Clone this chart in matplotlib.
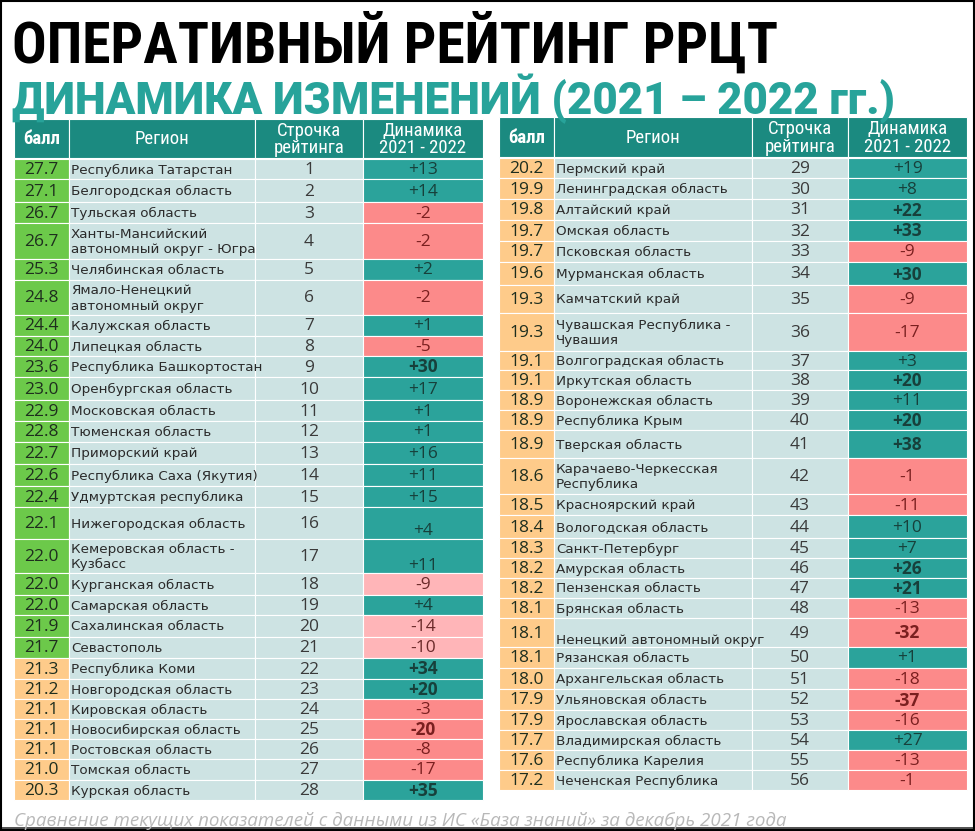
import matplotlib
matplotlib.use("Agg")
import matplotlib.pyplot as plt
from matplotlib.patches import Rectangle
from matplotlib import font_manager

# --- data ---
regions = [
    "Республика Татарстан", "Белгородская область", "Тульская область",
    "Ханты-Мансийский\nавтономный округ - Югра", "Челябинская область",
    "Ямало-Ненецкий\nавтономный округ", "Калужская область", "Липецкая область",
    "Республика Башкортостан", "Оренбургская область", "Московская область",
    "Тюменская область", "Приморский край", "Республика Саха (Якутия)",
    "Удмуртская республика", "Нижегородская область",
    "Кемеровская область -\nКузбасс", "Курганская область", "Самарская область",
    "Сахалинская область", "Севастополь", "Республика Коми",
    "Новгородская область", "Кировская область", "Новосибирская область",
    "Ростовская область", "Томская область", "Курская область",
    "Пермский край", "Ленинградская область", "Алтайский край", "Омская область",
    "Псковская область", "Мурманская область", "Камчатский край",
    "Чувашская Республика -\nЧувашия", "Волгоградская область",
    "Иркутская область", "Воронежская область", "Республика Крым",
    "Тверская область", "Карачаево-Черкесская\nРеспублика", "Красноярский край",
    "Вологодская область", "Санкт-Петербург", "Амурская область",
    "Пензенская область", "Брянская область", "Ненецкий автономный округ",
    "Рязанская область", "Архангельская область", "Ульяновская область",
    "Ярославская область", "Владимирская область", "Республика Карелия",
    "Чеченская Республика",
]
scores = [27.7, 27.1, 26.7, 26.7, 25.3, 24.8, 24.4, 24.0, 23.6, 23.0, 22.9, 22.8,
          22.7, 22.6, 22.4, 22.1, 22.0, 22.0, 22.0, 21.9, 21.7, 21.3, 21.2, 21.1,
          21.1, 21.1, 21.0, 20.3,
          20.2, 19.9, 19.8, 19.7, 19.7, 19.6, 19.3, 19.3, 19.1, 19.1, 18.9, 18.9,
          18.9, 18.6, 18.5, 18.4, 18.3, 18.2, 18.2, 18.1, 18.1, 18.1, 18.0, 17.9,
          17.9, 17.7, 17.6, 17.2]
ranks = [1, 2, 3, 4, 5, 6, 7, 8, 9, 10, 11, 12, 13, 14, 15, 16, 17, 18, 19, 20,
         21, 22, 23, 24, 25, 26, 27, 28, 29, 30, 31, 32, 33, 34, 35, 36, 37, 38,
         39, 40, 41, 42, 43, 44, 45, 46, 47, 48, 49, 50, 51, 52, 53, 54, 55, 56]
dynamics = [13, 14, -2, -2, 2, -2, 1, -5, 30, 17, 1, 1, 16, 11, 15, 4, 11, -9, 4,
            -14, -10, 34, 20, -3, -20, -8, -17, 35,
            19, 8, 22, 33, -9, 30, -9, -17, 3, 20, 11, 20, 38, -1, -11, 10, 7, 26,
            21, -13, -32, 1, -18, -37, -16, 27, -13, -1]
headers = ["балл", "Регион", "Строчка\nрейтинга", "Динамика\n2021 - 2022"]

# --- layout / style ---
left_h = [20, 23, 21, 36, 21, 35, 21, 20, 21, 23, 21, 21, 22, 22, 21, 32, 34, 22,
          20, 22, 21, 21, 20, 20, 20, 20, 21, 20]
right_h = [20, 21, 21, 21, 21, 23, 28, 38, 19, 20, 20, 20, 28, 36, 21, 23, 20, 20,
           20, 20, 29, 21, 21, 21, 20, 20, 20, 20]
bold_ranks = {9, 22, 23, 25, 28, 31, 32, 34, 38, 40, 41, 46, 47, 49, 52}
pale_ranks = {18, 20, 21}
dyn_offset = {16: 7, 17: 9}
name_offset = {49: 7}

GREEN = "#6cc94a"
ORANGE = "#fecb8a"
LIGHT = "#cde3e3"
HEAD = "#1b8a80"
POS = "#2ba39b"
NEG = "#fc8a8a"
PALE = "#ffb5b8"

installed = {f.name for f in font_manager.fontManager.ttflist}


def pick(*names):
    fams = [n for n in names if n in installed]
    return fams + ["DejaVu Sans"]


narrow = pick("Liberation Sans Narrow", "Roboto Condensed")
num_font = pick("Open Sans")

fig = plt.figure(figsize=(9.75, 8.31), dpi=100)
ax = fig.add_axes([0, 0, 1, 1])
ax.set_xlim(0, 975)
ax.set_ylim(831, 0)
ax.axis("off")

# titles
ax.text(12, 63, "ОПЕРАТИВНЫЙ РЕЙТИНГ РРЦТ", fontsize=41.5, fontweight="heavy",
        family=narrow, color="black", va="baseline", ha="left")
ax.text(12, 114, "ДИНАМИКА ИЗМЕНЕНИЙ (2021 – 2022 гг.)", fontsize=31.5,
        fontweight="black", family=pick("Roboto"), color="#27a39a",
        va="baseline", ha="left")


def draw_table(cols, top, head_bottom, heights, start):
    # header
    for j in range(4):
        ax.add_patch(Rectangle((cols[j], top), cols[j + 1] - cols[j],
                               head_bottom - top, facecolor=HEAD,
                               edgecolor="white", lw=0.8))
        ax.text((cols[j] + cols[j + 1]) / 2, (top + head_bottom) / 2 + 1,
                headers[j], ha="center", va="center", color="white",
                fontsize=13.5,
                fontweight="bold" if j == 0 else "normal",
                family=narrow, linespacing=0.95)
    y = head_bottom + 1
    for i, h in enumerate(heights):
        k = start + i
        rk = ranks[k]
        cy = y + h / 2
        score_col = GREEN if rk <= 21 else ORANGE
        if dynamics[k] > 0:
            dcol, tcol = POS, "#17403b"
        elif rk in pale_ranks:
            dcol, tcol = PALE, "#6b2a2a"
        else:
            dcol, tcol = NEG, "#7a1f1f"
        fills = [score_col, LIGHT, LIGHT, dcol]
        for j in range(4):
            ax.add_patch(Rectangle((cols[j], y), cols[j + 1] - cols[j], h,
                                   facecolor=fills[j], edgecolor="white", lw=0.8))
        ax.text((cols[0] + cols[1]) / 2, cy + 1, f"{scores[k]:.1f}", ha="center",
                va="center", fontsize=12.5, family=num_font, color="#1e2e1e")
        ax.text(cols[1] + 2, cy + 1 + name_offset.get(rk, 0), regions[k],
                ha="left", va="center", fontsize=9.7, family="DejaVu Sans",
                color="#2a2a2a", linespacing=1.25)
        ax.text((cols[2] + cols[3]) / 2, cy + 1, str(rk), ha="center",
                va="center", fontsize=12.5, family=num_font, color="#3a3a3a")
        ax.text((cols[3] + cols[4]) / 2, cy + 1 + dyn_offset.get(rk, 0),
                f"{dynamics[k]:+d}", ha="center", va="center", fontsize=12.5,
                family=num_font, color=tcol,
                fontweight="bold" if rk in bold_ranks else "normal")
        y += h


draw_table([14, 69, 255, 363, 483], 119, 158, left_h, 0)
draw_table([499, 554, 752, 848, 967], 117, 157, right_h, 28)

# footer
ax.text(14, 826, "Сравнение текущих показателей с данными из ИС «База знаний» "
        "за декабрь 2021 года", fontsize=13.5, fontstyle="italic",
        family=num_font, color="#b8b8b8", ha="left", va="baseline")
ax.add_patch(Rectangle((0, 827), 975, 4, facecolor="#555555", lw=0))

# frame
ax.add_patch(Rectangle((1, 1), 973, 829, facecolor="none", edgecolor="black",
                       lw=1.5))

fig.savefig("out.png", dpi=100)
